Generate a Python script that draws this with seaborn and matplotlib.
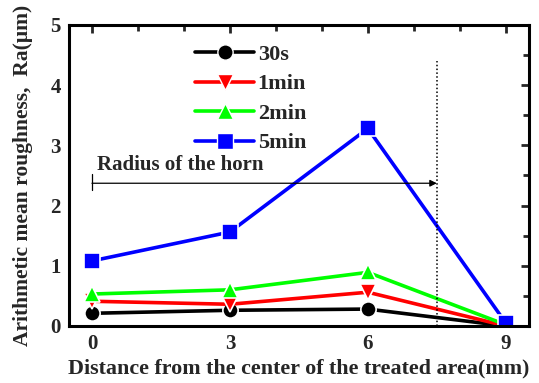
import matplotlib
matplotlib.use("Agg")
import matplotlib.pyplot as plt
import seaborn as sns
import pandas as pd
from matplotlib.ticker import MultipleLocator

sns.set_theme(style="white")
plt.rcParams['font.family'] = ['Liberation Serif', 'DejaVu Serif']
plt.rcParams['font.weight'] = 'bold'

# Measured roughness vs. distance from treatment center
distance = [0, 3, 6, 9]
series = ["30s", "1min", "2min", "5min"]
ra_30s = [0.21, 0.26, 0.28, 0.0]
ra_1min = [0.41, 0.36, 0.56, 0.0]
ra_2min = [0.53, 0.60, 0.89, 0.02]
ra_5min = [1.08, 1.56, 3.28, 0.05]

colors = ["black", "red", "#00ff00", "blue"]
marker_shapes = ["o", "v", "^", "s"]

rows = []
for name, vals in zip(series, [ra_30s, ra_1min, ra_2min, ra_5min]):
    for d, v in zip(distance, vals):
        rows.append({"distance": d, "Ra": v, "time": name})
df = pd.DataFrame(rows)

fig = plt.figure(figsize=(5.39, 3.83), dpi=100)
ax = fig.add_axes([0.128, 0.149, 0.853, 0.786])

sns.lineplot(data=df, x="distance", y="Ra", hue="time", style="time",
             hue_order=series, style_order=series,
             palette=dict(zip(series, colors)),
             markers=dict(zip(series, marker_shapes)), dashes=False,
             linewidth=2.6, markersize=11, markeredgecolor="white",
             markeredgewidth=1.2, ax=ax, legend=False)

# Horn radius indicator
ax.axvline(7.5, ymin=0.0, ymax=0.88, color="black", linestyle=(0, (1, 1.5)), linewidth=1.1)
ax.annotate("", xy=(7.5, 2.37), xytext=(0, 2.37),
            arrowprops=dict(arrowstyle="-|>", color="black", lw=0.9,
                            mutation_scale=10, shrinkA=0, shrinkB=0))
ax.plot([0, 0], [2.25, 2.52], color="black", lw=0.9)
ax.text(0.1, 2.5, "Radius of the horn", fontsize=15, fontweight="bold", va="bottom")

# Legend
handles = [plt.Line2D([], [], color=c, marker=m, linewidth=2.6, markersize=11,
                      markeredgecolor="white", markeredgewidth=1.0)
           for c, m in zip(colors, marker_shapes)]
ax.legend(handles, series, loc="upper left", bbox_to_anchor=(0.275, 0.935),
          frameon=False, prop={"weight": "bold", "size": 16}, borderpad=0,
          borderaxespad=0, handlelength=2.65, handletextpad=0.15, labelspacing=0.4)

ax.set_xlim(-0.5, 9.5)
ax.set_ylim(0, 5)
ax.set_xticks(distance)
ax.xaxis.set_minor_locator(MultipleLocator(1))
ax.yaxis.set_major_locator(MultipleLocator(1))
ax.yaxis.set_minor_locator(MultipleLocator(0.5))
ax.tick_params(which="both", direction="in", top=True, right=True, width=2, labelsize=15)
ax.tick_params(which="major", length=6, pad=6)
ax.tick_params(which="minor", length=4)
for lab in ax.get_xticklabels() + ax.get_yticklabels():
    lab.set_fontweight("bold")
for s in ax.spines.values():
    s.set_linewidth(2.2)
    s.set_color("black")

ax.set_xlabel("Distance from the center of the treated area(mm)", fontsize=15.8, fontweight="bold", labelpad=3)
ax.set_ylabel("Arithmetic mean roughness,  Ra(\u03bcm)", fontsize=15.5, fontweight="bold", labelpad=12)

fig.savefig("out.png", dpi=100)
